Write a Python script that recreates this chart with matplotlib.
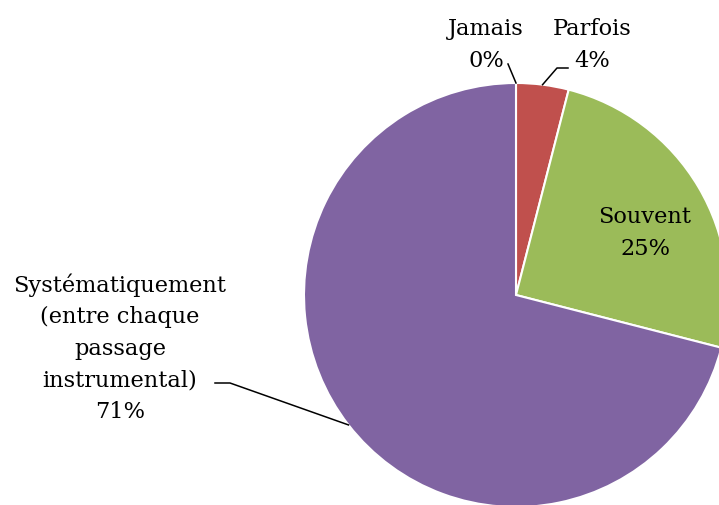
import numpy as np
import matplotlib
matplotlib.use("Agg")
import matplotlib.pyplot as plt

categories = ["Jamais", "Parfois", "Souvent",
              "Systématiquement\n(entre chaque\npassage\ninstrumental)"]
values = [0, 4, 25, 71]
colors = ["#4F81BD", "#C0504D", "#9BBB59", "#8064A2"]

W, H = 719, 505
fig = plt.figure(figsize=(W / 100, H / 100), dpi=100)
ax = fig.add_axes([0, 0, 1, 1])
cx, cy, R = 516, 295, 212

wedges, _ = ax.pie(values, colors=colors, startangle=90, counterclock=False,
                   radius=1, wedgeprops=dict(edgecolor="white", linewidth=1.5))
ax.set_xlim(-cx / R, (W - cx) / R)
ax.set_ylim(-(H - cy) / R, cy / R)
ax.set_aspect("auto")
ax.axis("off")

def px(x, y):
    return ((x - cx) / R, (cy - y) / R)

font = dict(family="DejaVu Serif", fontsize=16.2, ha="center", va="center",
            linespacing=1.55)
labels = [f"{c}\n{v}%" for c, v in zip(categories, values)]

total = sum(values)
cum = np.cumsum([0] + values[:-1])
mids = [np.deg2rad(90 - 360 * (c + v / 2) / total) for c, v in zip(cum, values)]
edge = [(np.cos(a), np.sin(a)) for a in mids]

tpos = [px(486, 45), px(592, 45), px(645, 233), px(120, 348)]
for lab, (tx, ty) in zip(labels, tpos):
    ax.text(tx, ty, lab, **font)

lk = dict(color="black", lw=1.1)
e0 = edge[0]
p = px(508, 64)
ax.plot([p[0], e0[0]], [p[1], e0[1]], **lk)
e1 = edge[1]
a, b = px(557, 68), px(568, 68)
ax.plot([e1[0], a[0], b[0]], [e1[1], a[1], b[1]], **lk)
e3 = edge[3]
a, b = px(230, 383), px(215, 383)
ax.plot([e3[0], a[0], b[0]], [e3[1], a[1], b[1]], **lk)

fig.savefig("out.png", dpi=100)
